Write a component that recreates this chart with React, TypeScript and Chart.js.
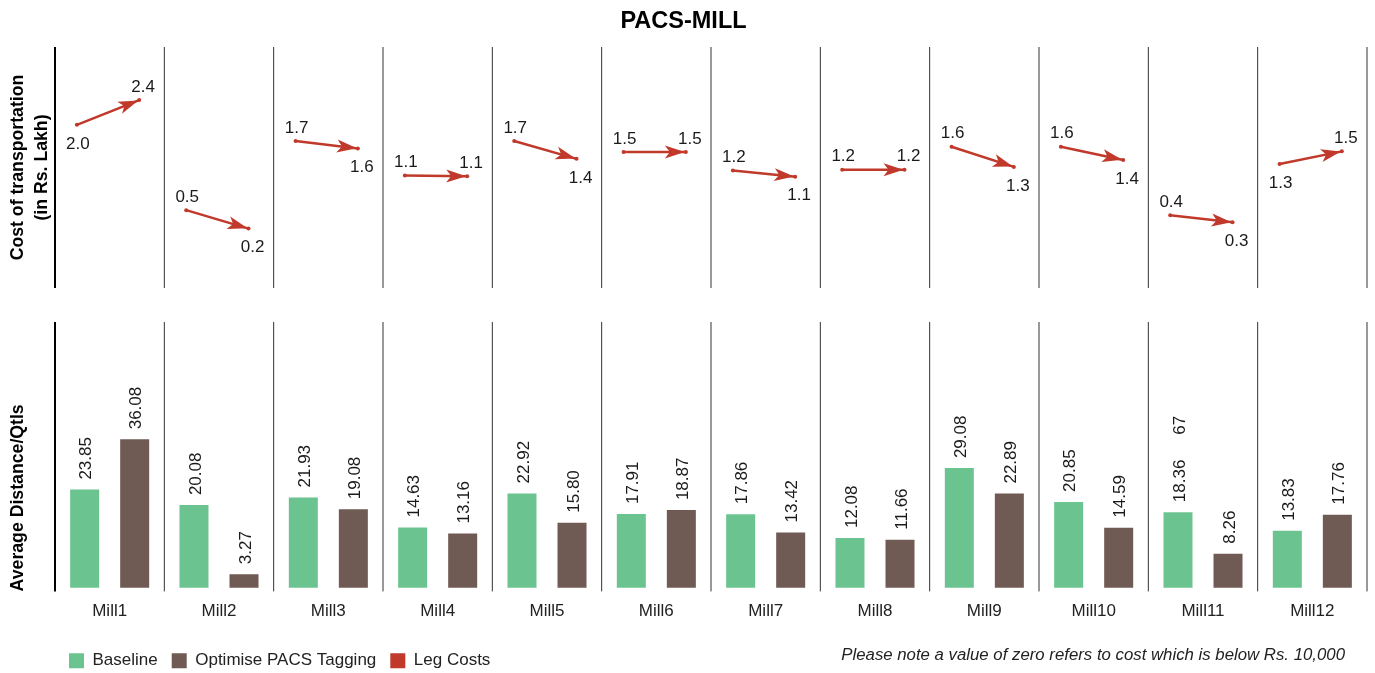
import React, { useEffect, useRef } from 'react';
import { Chart, registerables } from 'chart.js';

Chart.register(...registerables);

// ---------- data ----------
const chartTitle = 'PACS-MILL';
const mills = ['Mill1', 'Mill2', 'Mill3', 'Mill4', 'Mill5', 'Mill6', 'Mill7', 'Mill8', 'Mill9', 'Mill10', 'Mill11', 'Mill12'];
const seriesNames = ['Baseline', 'Optimise PACS Tagging', 'Leg Costs'];
// average distance per quintal (bottom panel)
const baselineDistance = [23.85, 20.08, 21.93, 14.63, 22.92, 17.91, 17.86, 12.08, 29.08, 20.85, 18.36, 13.83];
const optimisedDistance = [36.08, 3.27, 19.08, 13.16, 15.80, 18.87, 13.42, 11.66, 22.89, 14.59, 8.26, 17.76];
// cost of transportation in Rs. Lakh (top panel, leg from baseline to optimised)
const baselineCost = [2.0, 0.52, 1.72, 1.12, 1.72, 1.53, 1.21, 1.22, 1.62, 1.62, 0.43, 1.32];
const optimisedCost = [2.43, 0.2, 1.59, 1.11, 1.41, 1.53, 1.1, 1.22, 1.27, 1.39, 0.31, 1.54];
// stray label visible in the original above Mill11 baseline
const strayLabels = [{ mill: 'Mill11', text: '67' }];
const topAxisTitle = ['Cost of transportation', '(in Rs. Lakh)'];
const bottomAxisTitle = 'Average Distance/Qtls';
const footNote = 'Please note a value of zero refers to cost which is below Rs. 10,000';

// ---------- styles ----------
const FONT = "'Liberation Sans', Arial, Helvetica, sans-serif";
const GREEN = '#6bc490';
const BROWN = '#705b54';
const RED = '#c0392b';
const TEXT = '#1a1a1a';
const SEG_START = -0.3;
const SEG_END = 0.27;

const separatorPlugin = {
  id: 'separators',
  beforeDatasetsDraw(chart: any) {
    const { ctx, chartArea } = chart;
    const x = chart.scales.x;
    ctx.save();
    for (let i = 0; i <= mills.length; i++) {
      const px = x.getPixelForValue(i - 0.5);
      ctx.strokeStyle = i === 0 ? '#000' : '#333';
      ctx.lineWidth = i === 0 ? 2 : 1;
      ctx.beginPath();
      ctx.moveTo(px, chartArea.top);
      ctx.lineTo(px, chartArea.bottom);
      ctx.stroke();
    }
    ctx.restore();
  },
};

const arrowPlugin = {
  id: 'arrows',
  afterDatasetsDraw(chart: any) {
    const { ctx } = chart;
    const x = chart.scales.x;
    const y = chart.scales.y;
    ctx.save();
    ctx.font = `17px ${FONT}`;
    ctx.textAlign = 'center';
    ctx.textBaseline = 'middle';
    mills.forEach((_, i) => {
      const sx = x.getPixelForValue(i + SEG_START);
      const sy = y.getPixelForValue(baselineCost[i]);
      const ex = x.getPixelForValue(i + SEG_END);
      const ey = y.getPixelForValue(optimisedCost[i]);
      // arrow head
      const ang = Math.atan2(ey - sy, ex - sx);
      const len = 20;
      const half = 6.5;
      const notch = 5;
      const tx = ex - Math.cos(ang) * 1;
      const ty = ey - Math.sin(ang) * 1;
      const bx = tx - Math.cos(ang) * len;
      const by = ty - Math.sin(ang) * len;
      const nx = tx - Math.cos(ang) * (len - notch);
      const ny = ty - Math.sin(ang) * (len - notch);
      const px = -Math.sin(ang);
      const py = Math.cos(ang);
      ctx.fillStyle = RED;
      ctx.beginPath();
      ctx.moveTo(tx, ty);
      ctx.lineTo(bx + px * half, by + py * half);
      ctx.lineTo(nx, ny);
      ctx.lineTo(bx - px * half, by - py * half);
      ctx.closePath();
      ctx.fill();
      // labels
      const bl = baselineCost[i].toFixed(1);
      const ol = optimisedCost[i].toFixed(1);
      let startAbove = true;
      let endAbove = true;
      if (bl !== ol) {
        if (optimisedCost[i] < baselineCost[i]) {
          startAbove = true;
          endAbove = false;
        } else {
          startAbove = false;
          endAbove = true;
        }
      }
      ctx.fillStyle = TEXT;
      ctx.fillText(bl, sx + 1, startAbove ? sy - 13 : sy + 19);
      ctx.fillText(ol, ex + 4, endAbove ? ey - 13 : ey + 19);
    });
    ctx.restore();
  },
};

const barLabelPlugin = {
  id: 'barLabels',
  afterDatasetsDraw(chart: any) {
    const { ctx } = chart;
    ctx.save();
    ctx.font = `17px ${FONT}`;
    ctx.fillStyle = TEXT;
    ctx.textAlign = 'left';
    ctx.textBaseline = 'middle';
    [0, 1].forEach((d) => {
      const meta = chart.getDatasetMeta(d);
      const values = d === 0 ? baselineDistance : optimisedDistance;
      meta.data.forEach((bar: any, i: number) => {
        const txt = values[i].toFixed(2);
        ctx.save();
        ctx.translate(bar.x + 2, bar.y - 10);
        ctx.rotate(-Math.PI / 2);
        ctx.fillText(txt, 0, 0);
        ctx.restore();
        strayLabels
          .filter((s) => s.mill === mills[i] && d === 0)
          .forEach((s) => {
            const w = ctx.measureText(txt).width;
            ctx.save();
            ctx.translate(bar.x + 2, bar.y - 10 - w - 25);
            ctx.rotate(-Math.PI / 2);
            ctx.fillText(s.text, 0, 0);
            ctx.restore();
          });
      });
    });
    ctx.restore();
  },
};

const notePlugin = {
  id: 'footNote',
  afterDraw(chart: any) {
    const { ctx, chartArea } = chart;
    ctx.save();
    ctx.font = `italic 16.8px ${FONT}`;
    ctx.fillStyle = '#222';
    ctx.textAlign = 'right';
    ctx.textBaseline = 'middle';
    ctx.fillText(footNote, chartArea.right - 22, chartArea.bottom + 64);
    ctx.restore();
  },
};

export default function App() {
  const topRef = useRef<HTMLCanvasElement | null>(null);
  const bottomRef = useRef<HTMLCanvasElement | null>(null);

  useEffect(() => {
    const linePoints: any[] = [];
    mills.forEach((_, i) => {
      linePoints.push({ x: i + SEG_START, y: baselineCost[i] });
      linePoints.push({ x: i + SEG_END, y: optimisedCost[i] });
      linePoints.push({ x: i + 0.4, y: null });
    });

    const top = new Chart(topRef.current as HTMLCanvasElement, {
      type: 'line',
      data: {
        datasets: [
          {
            label: seriesNames[2],
            data: linePoints,
            borderColor: RED,
            backgroundColor: RED,
            borderWidth: 2.5,
            pointRadius: 2,
            pointHoverRadius: 2,
            pointBorderWidth: 0,
            spanGaps: false,
            tension: 0,
          },
        ],
      },
      options: {
        animation: false,
        responsive: false,
        maintainAspectRatio: false,
        layout: { padding: { left: 0, right: 8, top: 0, bottom: 12 } },
        plugins: {
          legend: { display: false },
          tooltip: { enabled: false },
          title: {
            display: true,
            text: chartTitle,
            color: '#000',
            font: { family: FONT, size: 23.5, weight: 'bold' },
            padding: { top: 7, bottom: 11.8 },
          },
        },
        scales: {
          x: { type: 'linear', min: -0.5, max: 11.5, display: false },
          y: {
            min: -0.83,
            max: 3.35,
            ticks: { display: false },
            grid: { display: false, drawTicks: false },
            border: { display: false },
            title: {
              display: true,
              text: topAxisTitle,
              color: '#000',
              font: { family: FONT, size: 17.7, weight: 'bold', lineHeight: 1.35 },
              padding: { top: 6, bottom: 0 },
            },
            afterFit: (s: any) => {
              s.width = 55;
            },
          },
        },
      } as any,
      plugins: [separatorPlugin, arrowPlugin],
    });

    const bottom = new Chart(bottomRef.current as HTMLCanvasElement, {
      type: 'bar',
      data: {
        labels: mills,
        datasets: [
          {
            label: seriesNames[0],
            data: baselineDistance,
            backgroundColor: GREEN,
            borderWidth: 0,
            categoryPercentage: 0.915,
            barPercentage: 0.58,
          },
          {
            label: seriesNames[1],
            data: optimisedDistance,
            backgroundColor: BROWN,
            borderWidth: 0,
            categoryPercentage: 0.915,
            barPercentage: 0.58,
          },
          {
            type: 'line',
            label: seriesNames[2],
            data: [],
            backgroundColor: RED,
            borderColor: RED,
            borderWidth: 0,
          } as any,
        ],
      },
      options: {
        animation: false,
        responsive: false,
        maintainAspectRatio: false,
        layout: { padding: { left: 0, right: 8, top: 22, bottom: 20.8 } },
        plugins: {
          tooltip: { enabled: false },
          title: { display: false },
          legend: {
            position: 'bottom',
            align: 'start',
            fullSize: false,
            labels: {
              boxWidth: 15,
              boxHeight: 15,
              padding: 14,
              color: '#222',
              font: { family: FONT, size: 17 },
            },
          },
        },
        scales: {
          x: {
            grid: { display: false, drawTicks: false },
            border: { display: false },
            ticks: { color: '#222', font: { family: FONT, size: 17 }, padding: 10 },
            afterFit: (s: any) => {
              s.height = 46.8;
            },
          },
          y: {
            min: -0.9,
            max: 64.6,
            ticks: { display: false },
            grid: { display: false, drawTicks: false },
            border: { display: false },
            title: {
              display: true,
              text: bottomAxisTitle,
              align: 'start',
              color: '#000',
              font: { family: FONT, size: 17.7, weight: 'bold', lineHeight: 1.35 },
              padding: { top: 6, bottom: 0 },
            },
            afterFit: (s: any) => {
              s.width = 55;
            },
          },
        },
      } as any,
      plugins: [separatorPlugin, barLabelPlugin, notePlugin],
    });

    return () => {
      top.destroy();
      bottom.destroy();
    };
  }, []);

  return (
    <div
      style={{
        position: 'fixed',
        left: 0,
        top: 0,
        width: 1375,
        height: 673,
        overflow: 'hidden',
        background: '#fff',
      }}
    >
      <canvas ref={topRef} width={1375} height={300} style={{ position: 'absolute', left: 0, top: 0 }} />
      <canvas ref={bottomRef} width={1375} height={400} style={{ position: 'absolute', left: 0, top: 300 }} />
    </div>
  );
}
